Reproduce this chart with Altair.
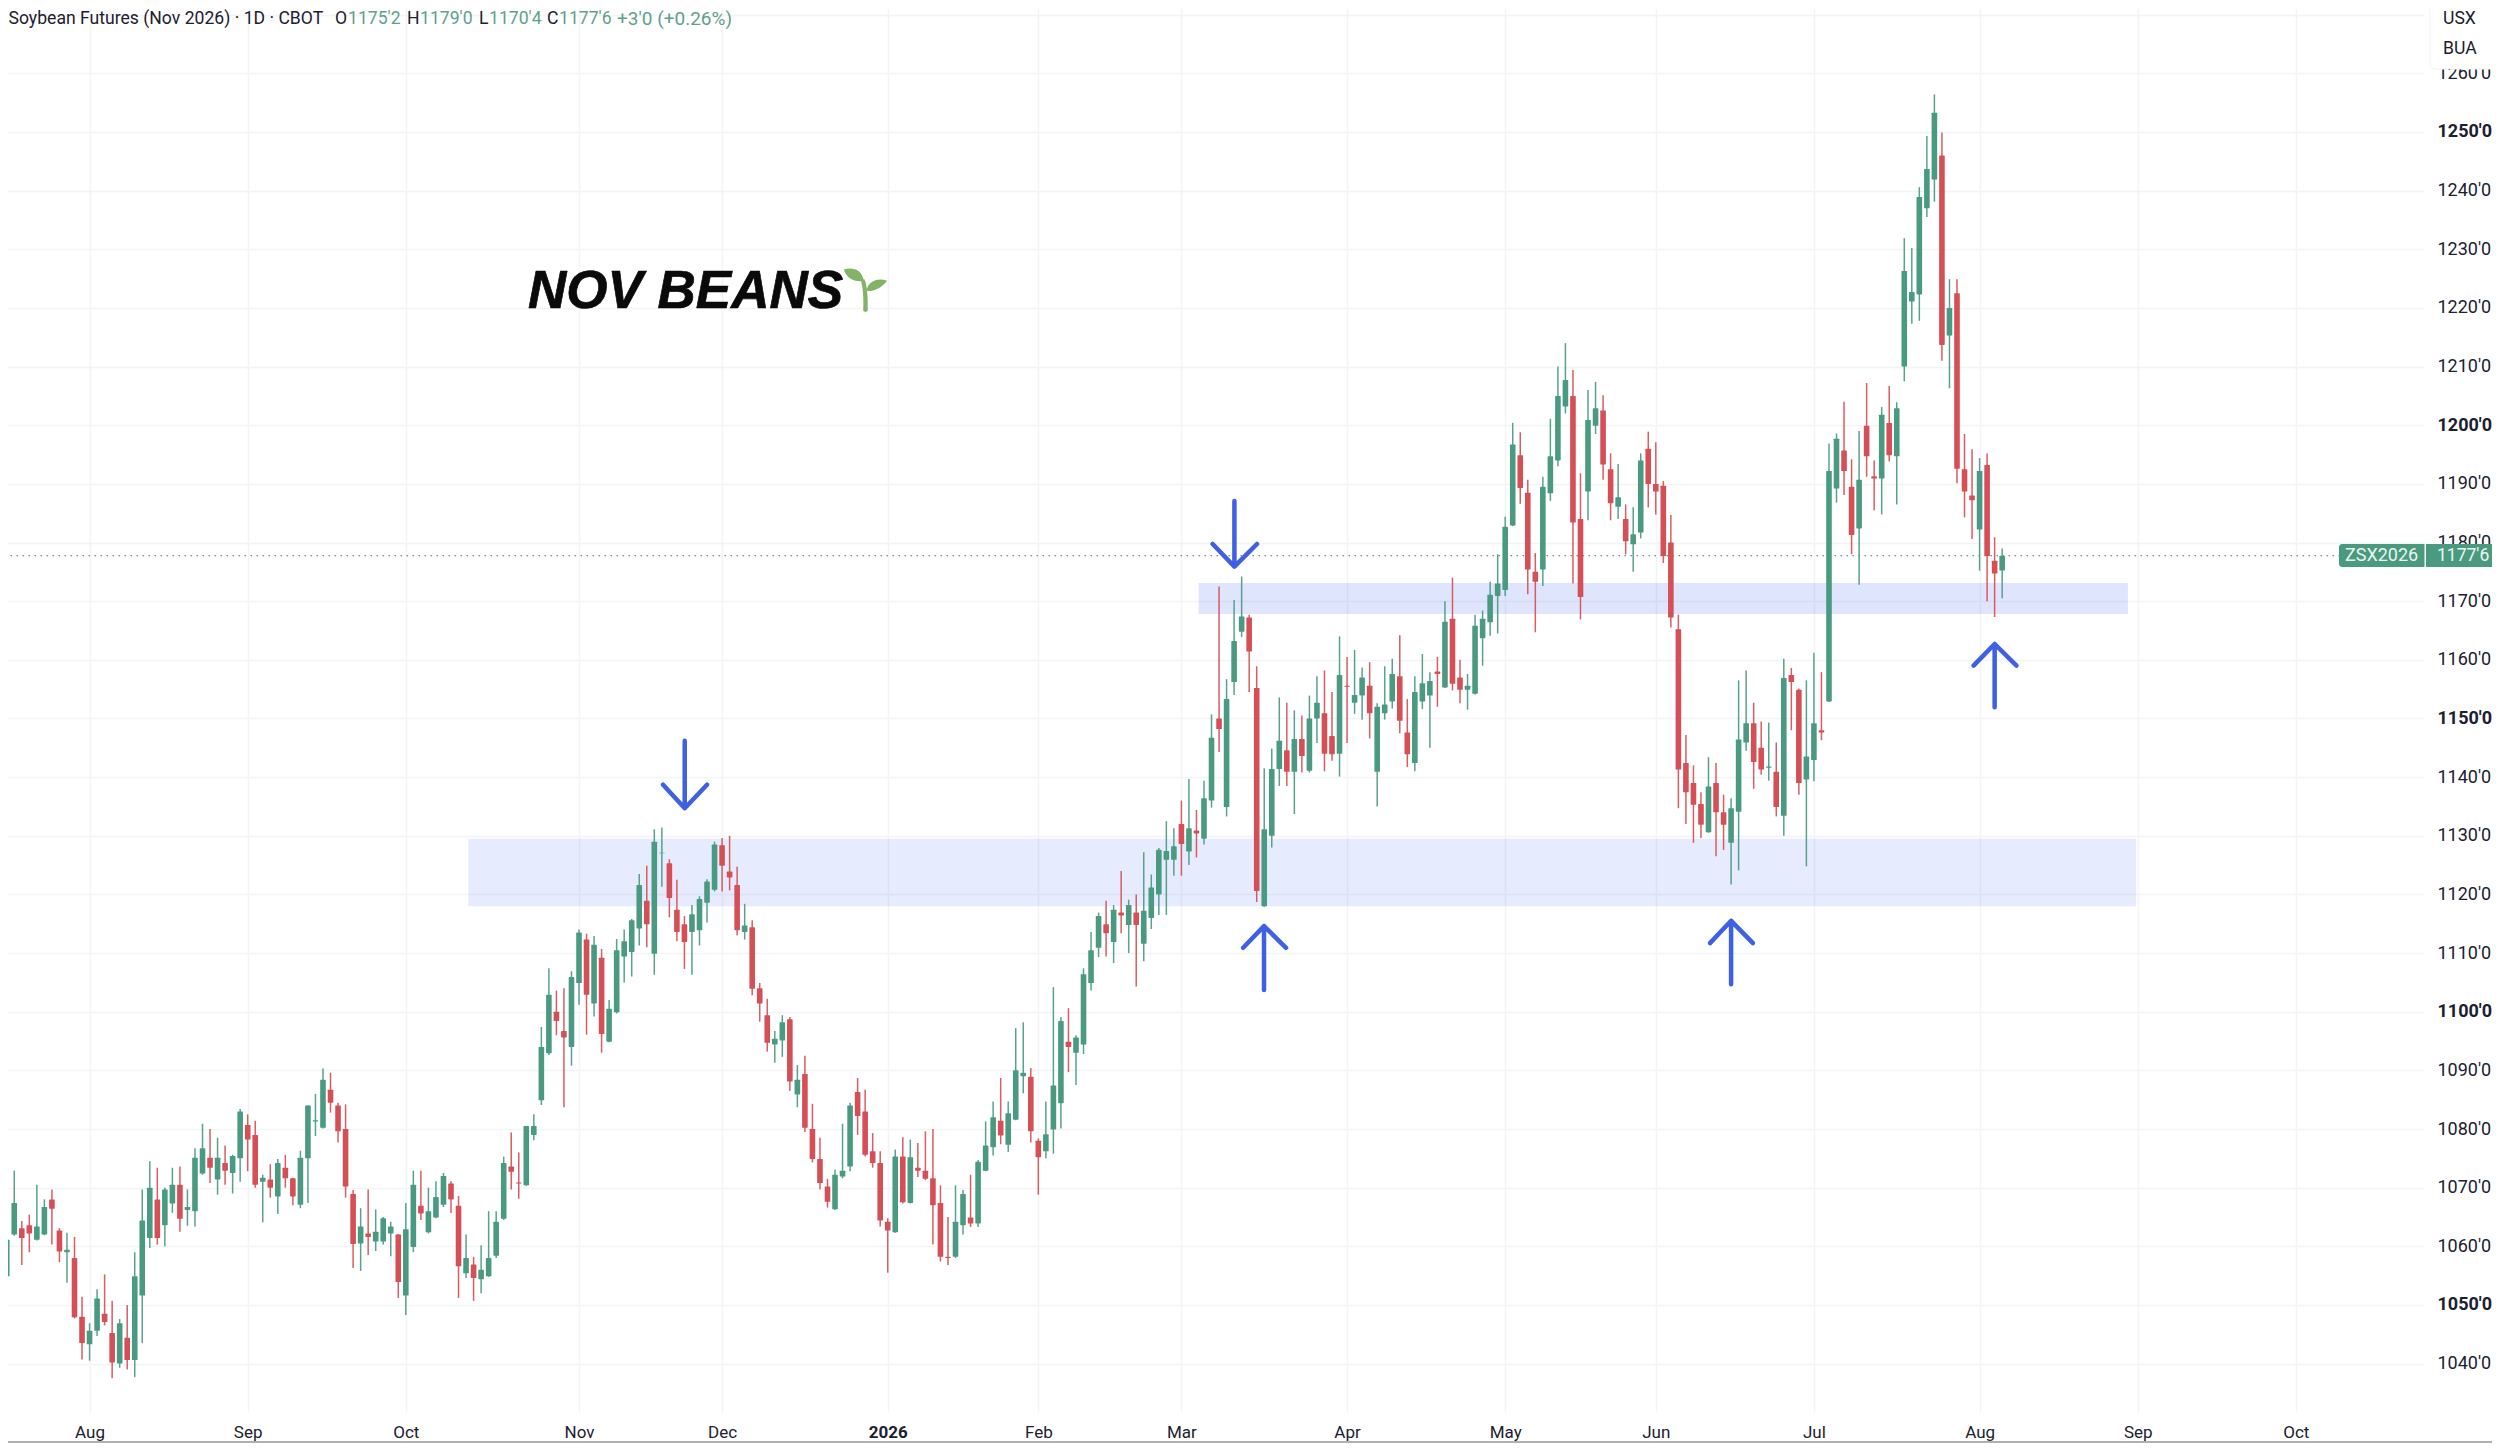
import json
import altair as alt
import pandas as pd

opens = [
 1042.5,1054.9,1062.0,1063.1,1063.6,1061.1,1062.0,1068.0,1062.7,1059.0,
 1058.0,1048.0,1043.3,1045.6,1048.5,1045.2,1040.0,1044.4,1040.6,1051.6,
 1061.4,1068.0,1063.6,1067.3,1070.5,1066.2,1066.0,1072.4,1075.1,1071.4,
 1074.2,1072.5,1075.0,1080.7,1079.0,1071.0,1071.4,1068.5,1073.4,1071.6,
 1067.1,1075.0,1081.3,1080.2,1086.7,1084.0,1080.0,1068.9,1060.5,1062.2,
 1060.8,1060.8,1062.2,1062.0,1051.6,1059.9,1066.9,1062.4,1064.9,1067.1,
 1070.7,1066.9,1055.4,1056.9,1054.4,1054.9,1058.4,1064.7,1073.6,1070.9,
 1070.4,1079.0,1084.9,1092.9,1100.0,1096.7,1094.0,1104.9,1112.3,1101.4,
 1109.2,1094.9,1099.9,1109.4,1110.2,1114.2,1118.9,1109.9,1127.0,1125.3,
 1117.4,1114.9,1113.6,1113.9,1118.6,1120.8,1128.4,1123.9,1121.6,1113.6,
 1114.4,1104.0,1099.4,1094.4,1095.1,1098.7,1085.9,1089.4,1080.0,1074.9,
 1070.2,1066.3,1071.9,1073.6,1086.3,1083.0,1076.2,1074.2,1064.2,1062.4,
 1075.3,1067.4,1073.4,1072.9,1071.6,1067.4,1058.2,1058.2,1063.6,1064.9,
 1063.9,1072.9,1076.9,1081.4,1077.3,1081.6,1089.0,1088.9,1078.0,1076.2,
 1079.9,1084.4,1094.9,1093.0,1094.4,1104.9,1110.9,1114.9,1111.9,1116.9,
 1114.8,1116.9,1111.6,1116.0,1120.0,1125.9,1125.9,1132.0,1127.3,1130.9,
 1129.5,1136.0,1150.0,1134.9,1156.2,1164.8,1167.2,1155.2,1118.0,1130.0,
 1141.4,1144.6,1140.9,1146.5,1141.1,1150.0,1150.9,1147.0,1144.0,1155.6,
 1152.7,1153.9,1155.6,1140.9,1150.9,1152.9,1157.2,1147.6,1142.4,1152.9,
 1153.9,1158.0,1155.3,1167.0,1157.0,1154.9,1154.2,1163.7,1166.4,1170.9,
 1171.9,1182.9,1194.9,1188.5,1175.0,1175.4,1188.4,1194.0,1203.2,1205.0,
 1184.0,1188.7,1199.9,1202.5,1192.5,1186.1,1184.0,1179.7,1181.7,1196.0,
 1190.0,1189.7,1180.0,1165.2,1142.4,1139.0,1135.4,1130.6,1139.0,1134.0,
 1128.8,1134.1,1145.9,1149.2,1145.0,1141.6,1140.9,1133.4,1157.4,1154.9,
 1139.6,1142.9,1148.0,1152.9,1189.2,1195.7,1189.5,1182.4,1199.9,1191.3,
 1190.9,1200.4,1194.7,1210.0,1221.1,1222.3,1237.0,1241.9,1246.0,1215.3,
 1222.5,1192.5,1188.0,1182.2,1193.2,1176.9,1175.25,
]
highs = [
 1056.0,1063.4,1072.9,1064.3,1065.4,1070.5,1068.0,1069.7,1063.1,1062.3,
 1061.6,1051.4,1046.9,1052.7,1055.2,1050.7,1047.6,1050.0,1059.0,1069.7,
 1074.5,1073.4,1070.0,1073.4,1073.6,1069.7,1076.7,1080.9,1080.0,1078.5,
 1077.2,1075.6,1083.4,1082.5,1081.4,1072.2,1074.0,1074.9,1075.6,1071.7,
 1076.3,1084.0,1086.0,1090.3,1089.6,1084.5,1084.2,1069.6,1066.5,1069.7,
 1066.3,1065.0,1064.2,1062.1,1067.4,1072.9,1072.9,1070.0,1071.1,1072.5,
 1071.1,1068.6,1062.0,1058.2,1060.2,1066.0,1066.0,1075.3,1079.4,1076.0,
 1080.5,1082.5,1097.4,1107.4,1103.6,1104.0,1106.9,1114.0,1113.3,1112.9,
 1110.7,1102.0,1112.4,1114.0,1115.8,1123.5,1124.9,1131.1,1131.4,1126.0,
 1122.5,1116.3,1118.2,1119.7,1122.6,1129.0,1129.6,1130.0,1124.7,1118.4,
 1115.6,1104.9,1102.2,1096.7,1099.4,1099.1,1090.9,1092.5,1084.3,1078.5,
 1071.5,1073.1,1080.9,1084.5,1088.7,1086.7,1079.3,1076.2,1064.8,1076.5,
 1078.6,1078.2,1077.6,1079.6,1080.0,1070.4,1065.0,1070.4,1069.6,1072.2,
 1074.7,1081.3,1084.7,1088.7,1084.7,1097.2,1098.2,1090.4,1078.4,1084.7,
 1104.2,1099.1,1100.6,1096.0,1107.4,1113.6,1116.9,1118.9,1118.2,1124.0,
 1119.1,1120.0,1127.2,1123.4,1127.9,1132.5,1131.3,1136.0,1139.7,1134.4,
 1139.4,1150.7,1172.5,1156.7,1170.2,1174.2,1167.7,1158.9,1141.5,1144.9,
 1153.6,1152.7,1151.4,1150.5,1153.9,1157.2,1158.2,1154.5,1164.0,1160.5,
 1161.7,1158.7,1159.6,1152.6,1158.9,1160.2,1164.2,1153.3,1157.2,1161.0,
 1157.9,1160.5,1170.0,1174.0,1160.0,1157.6,1167.7,1168.4,1173.3,1178.0,
 1184.4,1200.4,1198.8,1190.7,1178.2,1191.2,1201.1,1210.0,1214.0,1209.4,
 1191.8,1206.0,1207.4,1205.1,1195.2,1193.4,1186.5,1186.0,1195.2,1198.9,
 1197.1,1190.5,1184.7,1167.7,1147.2,1142.0,1137.4,1143.4,1142.4,1137.0,
 1136.4,1156.5,1158.2,1152.7,1149.5,1149.3,1145.9,1160.2,1158.6,1155.1,
 1156.5,1161.2,1157.9,1196.9,1198.6,1204.0,1194.2,1199.0,1207.2,1194.0,
 1203.1,1206.7,1203.9,1231.9,1230.2,1240.6,1249.3,1256.4,1249.9,1224.9,
 1224.9,1198.5,1195.9,1194.4,1195.2,1180.9,1179.0,
]
lows = [
 1042.0,1052.0,1061.8,1056.8,1059.0,1061.0,1061.9,1060.3,1057.3,1053.8,
 1047.7,1040.7,1040.5,1044.7,1046.5,1037.5,1039.3,1039.0,1037.7,1043.5,
 1059.7,1060.3,1060.0,1065.7,1062.5,1063.5,1063.4,1072.2,1070.8,1068.8,
 1070.5,1069.0,1071.0,1072.8,1070.0,1064.1,1068.3,1065.5,1070.0,1067.0,
 1066.5,1067.4,1078.8,1080.1,1082.8,1077.7,1068.3,1056.3,1055.8,1058.5,
 1059.2,1060.3,1058.3,1051.2,1048.3,1059.0,1064.5,1062.2,1064.8,1066.7,
 1065.7,1051.2,1054.6,1050.7,1052.0,1054.8,1058.0,1064.5,1069.7,1068.1,
 1070.3,1078.1,1084.1,1092.6,1096.0,1083.7,1090.8,1101.2,1096.1,1099.2,
 1093.0,1094.8,1099.7,1105.0,1106.0,1111.3,1111.0,1106.3,1121.3,1116.1,
 1112.0,1107.3,1106.3,1111.3,1115.2,1120.5,1120.5,1120.7,1113.0,1112.3,
 1102.8,1098.3,1093.2,1091.3,1092.3,1086.5,1083.7,1079.5,1074.3,1069.7,
 1066.6,1066.2,1071.6,1072.8,1079.0,1075.3,1073.4,1063.4,1055.5,1062.3,
 1067.3,1067.3,1071.8,1071.3,1060.3,1057.4,1056.8,1058.0,1062.0,1063.3,
 1063.3,1072.8,1075.5,1077.4,1076.1,1081.5,1086.1,1077.7,1068.8,1075.0,
 1075.8,1080.1,1089.7,1087.5,1092.8,1103.6,1109.3,1109.4,1108.3,1113.4,
 1110.0,1104.3,1108.6,1114.1,1116.5,1116.5,1123.2,1123.2,1125.0,1126.3,
 1128.5,1134.8,1144.3,1133.3,1154.0,1163.9,1154.5,1118.7,1117.9,1128.0,
 1138.5,1138.5,1133.7,1140.8,1140.8,1145.8,1141.0,1142.8,1140.1,1145.8,
 1150.8,1149.8,1146.6,1135.0,1149.8,1151.7,1147.5,1141.7,1141.0,1151.6,
 1145.0,1152.0,1155.2,1154.8,1152.6,1151.5,1154.1,1159.0,1164.1,1164.5,
 1170.9,1182.8,1186.6,1171.2,1164.7,1172.6,1187.1,1193.0,1202.0,1173.0,
 1166.9,1183.8,1198.5,1190.7,1183.8,1184.0,1178.0,1175.0,1180.7,1186.0,
 1184.8,1176.5,1165.5,1134.7,1132.0,1128.8,1129.6,1130.5,1126.5,1127.6,
 1121.7,1124.1,1144.5,1138.0,1140.4,1139.4,1133.3,1130.0,1148.0,1137.0,
 1124.8,1139.3,1146.3,1152.8,1186.8,1188.1,1178.0,1172.8,1191.2,1185.5,
 1184.8,1193.8,1186.5,1207.5,1217.3,1217.8,1235.5,1238.1,1211.0,1206.3,
 1190.1,1184.3,1180.6,1175.2,1170.0,1167.3,1170.5,
]
closes = [
 1055.6,1061.1,1067.4,1061.4,1062.2,1063.4,1066.7,1066.4,1059.1,1059.4,
 1047.9,1043.5,1045.6,1051.1,1047.1,1040.2,1046.9,1040.6,1054.9,1064.4,
 1070.0,1061.4,1069.7,1070.5,1064.7,1066.7,1075.1,1076.7,1073.4,1075.1,
 1072.9,1075.4,1083.0,1078.2,1070.5,1071.7,1070.0,1074.2,1071.6,1068.5,
 1075.1,1084.0,1081.5,1088.4,1084.5,1079.6,1070.2,1060.4,1063.4,1061.6,
 1062.5,1064.8,1063.4,1053.9,1062.9,1070.5,1065.6,1066.0,1068.4,1072.0,
 1068.0,1056.6,1058.0,1054.6,1056.0,1058.0,1064.2,1074.2,1072.7,1070.7,
 1080.5,1080.5,1094.0,1102.9,1098.4,1095.6,1105.9,1113.5,1102.9,1111.4,
 1096.2,1100.5,1110.5,1112.0,1115.6,1121.6,1114.9,1129.0,1127.1,1119.4,
 1113.6,1111.9,1116.6,1119.2,1122.2,1128.5,1124.9,1122.9,1113.9,1114.7,
 1103.9,1101.4,1094.7,1095.4,1098.2,1088.1,1088.4,1080.2,1074.9,1070.8,
 1067.6,1072.2,1072.9,1084.0,1082.2,1075.6,1074.2,1064.4,1062.7,1075.3,
 1067.5,1075.2,1072.9,1071.5,1067.0,1058.2,1058.0,1064.2,1068.9,1063.9,
 1074.4,1077.2,1082.0,1078.9,1082.7,1090.0,1089.6,1079.6,1075.2,1079.1,
 1087.4,1098.4,1094.0,1095.6,1106.4,1110.5,1116.3,1113.4,1117.4,1116.4,
 1118.2,1114.8,1117.2,1121.2,1127.6,1127.4,1128.2,1128.6,1131.3,1130.4,
 1136.4,1146.7,1148.2,1153.3,1163.2,1167.4,1161.4,1120.6,1131.1,1141.4,
 1146.2,1140.9,1146.5,1143.6,1150.0,1152.7,1144.0,1143.9,1157.4,1155.4,
 1154.0,1157.0,1150.9,1152.0,1152.4,1157.6,1149.6,1143.9,1154.5,1156.0,
 1156.4,1157.6,1166.5,1155.9,1154.9,1155.6,1165.8,1167.0,1171.1,1173.0,
 1182.7,1196.7,1189.3,1175.4,1173.3,1189.5,1194.7,1205.0,1207.7,1183.4,
 1170.7,1200.9,1202.9,1193.3,1186.7,1187.7,1180.2,1181.4,1194.0,1190.0,
 1188.7,1177.7,1167.2,1141.3,1137.4,1135.3,1131.9,1138.4,1134.0,1131.9,
 1134.7,1146.4,1149.2,1142.6,1141.3,1141.8,1134.9,1156.9,1156.2,1139.0,
 1143.5,1149.2,1147.6,1192.2,1197.7,1192.2,1181.3,1190.7,1194.7,1190.9,
 1201.8,1194.9,1202.9,1226.3,1222.7,1238.9,1243.7,1253.3,1213.7,1220.0,
 1192.6,1188.7,1187.2,1192.2,1177.7,1174.7,1177.75,
]
assert len(opens) == len(highs) == len(lows) == len(closes) == 267

month_ticks = [12, 33, 54, 77, 96, 118, 138, 157, 179, 200, 220, 241, 263, 284, 305]
month_labels = ["Aug", "Sep", "Oct", "Nov", "Dec", "2026", "Feb", "Mar", "Apr", "May", "Jun", "Jul", "Aug", "Sep", "Oct"]
price_ticks = list(range(1040, 1280, 10))
last_close = 1177.75

zone_start = [62.3, 159.3]
zone_end = [283.8, 282.7]
zone_low = [1118.0, 1167.8]
zone_high = [1129.5, 1173.1]
zone_alpha = [0.125, 0.17]

arrow_x = [
    [91.04, 91.04, 88.16, 91.04, 94.0],
    [164.04, 164.04, 161.15, 164.04, 167.04],
    [167.97, 167.97, 165.2, 167.97, 170.9],
    [230.0, 230.0, 227.2, 230.0, 232.9],
    [265.0, 265.0, 262.2, 265.0, 267.9],
]
arrow_y = [
    [1146.2, 1134.7, 1138.7, 1134.7, 1138.7],
    [1187.1, 1175.9, 1179.75, 1175.9, 1179.75],
    [1103.7, 1114.6, 1110.9, 1114.6, 1110.9],
    [1104.7, 1115.5, 1111.7, 1115.5, 1111.7],
    [1151.9, 1162.7, 1159.0, 1162.7, 1159.0],
]

GREEN = "#4a9a82"
RED = "#d54f57"
GRID = "#f3f4f6"
INK = "#1c2030"
BLUE = "#3f60e3"
SPROUT = "#82b366"
FONT = "Roboto"

df = pd.DataFrame({"i": range(len(opens)), "o": opens, "h": highs, "l": lows, "c": closes})
df["dir"] = ["up" if c >= o else "down" for o, c in zip(opens, closes)]

xs = alt.Scale(domain=[1.1687, 322.02], nice=False, zero=False, padding=0)
ys = alt.Scale(domain=[1031.75, 1271.14], nice=False, zero=False, padding=0)
color = alt.Color("dir:N", scale=alt.Scale(domain=["up", "down"], range=[GREEN, RED]), legend=None)

x_label_expr = json.dumps({str(k): v for k, v in zip(month_ticks, month_labels)}) + "[datum.value]"
x_axis = alt.Axis(
    values=month_ticks, labelExpr=x_label_expr, title=None, domain=False, ticks=False,
    grid=True, gridColor=GRID, gridWidth=1.5, labelFont=FONT, labelFontSize=17, labelColor=INK,
    labelPadding=12, labelOverlap=False, labelFlush=False, labelBound=False,
    labelFontWeight={"condition": {"test": "datum.value === 118", "value": "bold"}, "value": "normal"},
)
y_axis = alt.Axis(
    values=price_ticks, orient="right",
    labelExpr="datum.value >= 1270 ? '' : datum.value + \"'0\"",
    title=None, domain=False,
    ticks=False, grid=True, gridColor=GRID, gridWidth=1.5, labelFont=FONT, labelFontSize=18,
    labelColor=INK, labelPadding=13, labelAlign="left", labelOverlap=False, labelFlush=False,
    labelBound=False,
    labelFontWeight={"condition": {"test": "datum.value % 50 === 0", "value": "bold"}, "value": "normal"},
)


def X(field):
    return alt.X(field, scale=xs, axis=x_axis, title=None)


def Y(field):
    return alt.Y(field, scale=ys, axis=y_axis, title=None)


one = pd.DataFrame({"a": [0]})
OFF = 8


def px(v):
    return alt.value(v - OFF)


def txt(s, x, y, col=INK, size=17.6, **kw):
    kw.setdefault("font", FONT)
    kw.setdefault("align", "left")
    kw.setdefault("baseline", "middle")
    return alt.Chart(one).mark_text(color=col, fontSize=size, **kw).encode(
        x=px(x), y=px(y), text=alt.value(s)
    )


def box(x0, x1, y0, y1, col, **kw):
    return alt.Chart(one).mark_rect(color=col, **kw).encode(x=px(x0), x2=px(x1), y=px(y0), y2=px(y1))


zones = pd.DataFrame({"a": zone_start, "b": zone_end, "lo": zone_low, "hi": zone_high, "op": zone_alpha})
zone_layer = alt.Chart(zones).mark_rect(color="#3a64f2").encode(
    x=X("a:Q"),
    x2="b:Q",
    y=Y("lo:Q"),
    y2="hi:Q",
    opacity=alt.Opacity("op:Q", scale=None),
)

wicks = alt.Chart(df).mark_rule(strokeWidth=1.5, opacity=0.92).encode(
    x=X("i:Q"),
    y=Y("l:Q"),
    y2="h:Q",
    color=color,
)
bodies = alt.Chart(df).mark_bar(size=5.6, cornerRadius=0.6).encode(
    x=X("i:Q"),
    y=Y("o:Q"),
    y2="c:Q",
    color=color,
)

last_line = alt.Chart(pd.DataFrame({"p": [last_close]})).mark_rule(
    color="#4d6a66", strokeWidth=1, strokeDash=[1.5, 4.5]
).encode(y=Y("p:Q"))

arrow_rows = [
    {"arrow": n, "step": k, "ax": ax, "ay": ay}
    for n, (xx, yy) in enumerate(zip(arrow_x, arrow_y))
    for k, (ax, ay) in enumerate(zip(xx, yy))
]
arrows = alt.Chart(pd.DataFrame(arrow_rows)).mark_line(
    color=BLUE, strokeWidth=4.5, strokeCap="round", strokeJoin="round"
).encode(
    x=X("ax:Q"),
    y=Y("ay:Q"),
    detail="arrow:N",
    order="step:Q",
)

SPROUT_PATH = (
    "M-0.96,-0.93 C-0.6,-1.05 -0.15,-0.95 -0.08,-0.42 C-0.5,-0.35 -0.85,-0.55 -0.96,-0.93 Z "
    "M0.96,-0.43 C0.7,-0.1 0.3,0.1 0.05,0 C0.1,-0.4 0.55,-0.6 0.96,-0.43 Z "
    "M-0.22,-0.5 L-0.05,-0.5 C0.1,-0.2 0.1,0.4 0.1,0.9 Q0,1 -0.1,0.9 C-0.08,0.4 -0.1,-0.15 -0.22,-0.5 Z"
)
sprout = alt.Chart(one).mark_point(
    shape=SPROUT_PATH, size=2025, filled=True, color=SPROUT, opacity=1, strokeWidth=0
).encode(x=px(865.5), y=px(290.5))

VAL = "#5f9f8c"
HY = 18.5
overlays = [
    txt("NOV BEANS", 528, 308, "#0a0a0a", 53, font="Liberation Sans", fontWeight="bold",
        fontStyle="italic", baseline="alphabetic", stroke="#0a0a0a", strokeWidth=0.7),
    sprout,
    txt("Soybean Futures (Nov 2026) \u00b7 1D \u00b7 CBOT", 8.5, HY),
    txt("O", 335, HY), txt("1175'2", 348, HY, VAL),
    txt("H", 407, HY), txt("1179'0", 420, HY, VAL),
    txt("L", 479, HY), txt("1170'4", 489, HY, VAL),
    txt("C", 547, HY), txt("1177'6", 559, HY, VAL),
    txt("+3'0 (+0.26%)", 617, HY, VAL, 19),
    box(2430, 2506, -6, 69, "#ffffff", stroke="#f2f2f4", cornerRadius=5),
    txt("USX", 2443, 19), txt("BUA", 2443, 49),
    box(2339, 2424.5, 544, 567, "#4a9a80", cornerRadiusTopLeft=3, cornerRadiusBottomLeft=3),
    box(2426, 2504, 544, 567, "#4a9a80"),
    txt("ZSX2026", 2345, 556, "#e9f6f1", 18),
    txt("1177'6", 2437, 556, "#e9f6f1", 17.5),
    box(-4, 2504, 1441, 1443, "#b0b0b0"),
]

chart = alt.layer(zone_layer, last_line, wicks, bodies, arrows, *overlays).properties(
    width=2416,
    height=1404,
    padding={"left": 0, "top": 0, "right": 68, "bottom": 31},
    autosize=alt.AutoSizeParams(type="none"),
    background="#ffffff",
).configure_view(stroke=None)

chart.save("out.html", embed_options={"renderer": "svg", "actions": False})
